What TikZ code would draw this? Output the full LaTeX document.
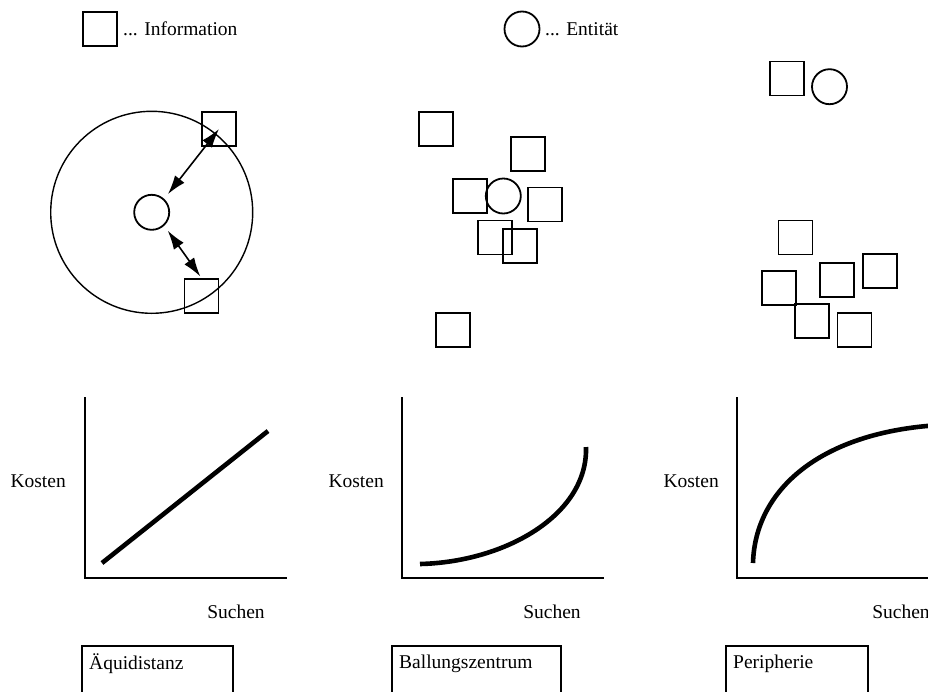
\documentclass[tikz,border=0pt]{standalone}
\usepackage{fontspec}
\setmainfont{Liberation Serif}
\usetikzlibrary{arrows.meta}

\tikzset{
  info/.style={draw, rectangle, line width=1.8pt, minimum size=34pt, inner sep=0pt},
  entity/.style={draw, circle, line width=1.8pt, minimum size=35pt, inner sep=0pt},
  ring/.style={draw, circle, line width=1.4pt, minimum size=202pt, inner sep=0pt},
  dbl/.style={line width=1.6pt, {Latex[length=19pt,width=12pt]}-{Latex[length=19pt,width=12pt]}},
  axisline/.style={line width=1.7pt},
  costcurve/.style={line width=4.6pt},
  lbl/.style={font=\fontsize{19.5}{22}\selectfont, inner sep=0pt},
  tabbox/.style={line width=1.3pt}
}

\begin{document}
\begin{tikzpicture}[x=1pt, y=-1pt]
  \clip (0,0) rectangle (928,691);
  \fill[white] (0,0) rectangle (928,691);

  % legend
  \node[info] (legsq) at (100,29) {};
  \node[lbl, anchor=west] (leginfo) at (123,29) {... Information};
  \node[entity] (legci) at (522,29) {};
  \node[lbl, anchor=west] (legent) at (545,29) {... Entität};

  % equidistant arrangement
  \node[ring] (orbit) at (151.7,212.3) {};
  \node[entity] (eqc) at (151.7,212.3) {};
  \node[info] (eqa) at (219,129) {};
  \node[info] (eqb) at (201.5,296) {};
  \draw[dbl, shorten <=6pt] (eqc.47) -- (eqa.center);
  \draw[dbl, shorten <=6pt, shorten >=2pt] (eqc.-47) -- (eqb.north);

  % clustered arrangement
  \node[info] (ba) at (436,129) {};
  \node[info] (bb) at (528,154) {};
  \node[info] (bc) at (470,196) {};
  \node[entity] (bz) at (503.3,196) {};
  \node[info] (bd) at (545,204.5) {};
  \node[info] (be) at (495,237.5) {};
  \node[info] (bf) at (520,246) {};
  \node[info] (bg) at (453,330) {};

  % peripheral arrangement
  \node[info] (pa) at (787,78.5) {};
  \node[entity] (pz) at (829.5,86.7) {};
  \node[info] (pb) at (795.5,237.5) {};
  \node[info] (pc) at (779,288) {};
  \node[info] (pd) at (837,280) {};
  \node[info] (pe) at (880,271) {};
  \node[info] (pf) at (812,321) {};
  \node[info] (pg) at (854.5,330) {};

  % cost graphs
  \draw[axisline] (85,397) -- (85,578) -- (287,578);
  \draw[costcurve] (102,563) -- (268,431);
  \node[lbl, anchor=east] (k1) at (66,481) {Kosten};
  \node[lbl] (s1) at (236,612) {Suchen};

  \draw[axisline] (402,397) -- (402,578) -- (604,578);
  \draw[costcurve] (420,564) .. controls (505,562) and (588,515) .. (586,447);
  \node[lbl, anchor=east] (k2) at (384,481) {Kosten};
  \node[lbl] (s2) at (552,612) {Suchen};

  \draw[axisline] (737,397) -- (737,578) -- (940,578);
  \draw[costcurve] (753,563) .. controls (755,490) and (820,432) .. (940,425);
  \node[lbl, anchor=east] (k3) at (719,481) {Kosten};
  \node[lbl] (s3) at (901,612) {Suchen};

  % captions
  \draw[tabbox] (82,700) |- (233,646) -- (233,700);
  \node[lbl, anchor=west] (c1) at (89,664) {Äquidistanz};
  \draw[tabbox] (392,700) |- (561,646) -- (561,700);
  \node[lbl, anchor=west] (c2) at (399,664) {Ballungszentrum};
  \draw[tabbox] (726,700) |- (868,646) -- (868,700);
  \node[lbl, anchor=west] (c3) at (733,664) {Peripherie};
\end{tikzpicture}
\end{document}
